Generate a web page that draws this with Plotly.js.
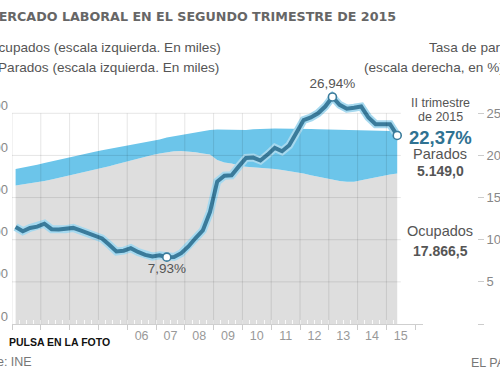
<!DOCTYPE html>
<html><head><meta charset="utf-8">
<script src="https://cdn.plot.ly/plotly-3.0.1.min.js"></script>
<style>html,body{margin:0;padding:0;background:#fff}#chart{width:500px;height:379px}</style>
</head><body><div id="chart"></div>
<script>
const quarters = [
 "2002T1","2002T2","2002T3","2002T4","2003T1","2003T2","2003T3","2003T4",
 "2004T1","2004T2","2004T3","2004T4","2005T1","2005T2","2005T3","2005T4",
 "2006T1","2006T2","2006T3","2006T4","2007T1","2007T2","2007T3","2007T4",
 "2008T1","2008T2","2008T3","2008T4","2009T1","2009T2","2009T3","2009T4",
 "2010T1","2010T2","2010T3","2010T4","2011T1","2011T2","2011T3","2011T4",
 "2012T1","2012T2","2012T3","2012T4","2013T1","2013T2","2013T3","2013T4",
 "2014T1","2014T2","2014T3","2014T4","2015T1","2015T2"];
// Ocupados (miles)
const ocupados = [
 16420,16550,16680,16800, 16960,17150,17340,17520,
 17700,17900,18080,18270, 18500,18720,18950,19180,
 19400,19620,19840,20050, 20230,20380,20500,20530,
 20480,20380,20240,20100, 19450,19150,19050,18800,
 18650,18600,18560,18480, 18400,18280,18150,18030,
 17850,17640,17470,17300, 17080,16960,16890,16880,
 17060,17250,17450,17640, 17750,17866.5];
// Parados (miles)
const parados = [
 1980,2000,2040,2100, 2140,2150,2160,2200,
 2200,2200,2200,2180, 2120,2060,1980,1880,
 1800,1730,1660,1630, 1670,1740,1780,1900,
 2120,2380,2650,2920, 3630,3900,3970,4190,
 4380,4500,4610,4700, 4790,4910,5030,5140,
 5300,5490,5630,5780, 5980,6070,6110,6100,
 5890,5670,5440,5230, 5150,5149.0];
// Tasa de paro (%)
const tasaParo = [
 11.50,11.00,11.40,11.55, 11.90,11.25,11.20,11.25,
 11.40,11.10,10.80,10.50, 10.15,9.40,8.60,8.70,
 9.00,8.55,8.20,8.00, 8.15,7.93,7.95,8.40,
 9.20,10.20,11.10,13.30, 16.90,17.60,17.65,18.70,
 19.70,19.75,19.40,20.10, 20.90,20.50,21.20,22.70,
 24.20,24.50,25.00,25.80, 26.94,26.00,25.55,25.65,
 25.80,24.50,23.70,23.70, 23.70,22.37];
const xTickYears = [2006,2007,2008,2009,2010,2011,2012,2013,2014,2015];
const xTickLabels = ["06","07","08","09","10","11","12","13","14","15"];
const gridYears = [2002,2003,2004,2005,2006,2007,2008,2009,2010,2011,2012,2013,2014,2015];
const yLeftTicks = [0,5000,10000,15000,20000,25000];
const yLeftLabels = ["0","5.000","10.000","15.000","20.000","25.000"];
const yRightTicks = [0,5,10,15,20,25];
const yRightLabels = ["","5","10","15","20","25"];
const highlighted = ["2007T2","2013T1","2015T2"];

const W=500,H=379,M={l:12,r:23,t:88,b:55};
const PW=W-M.l-M.r, PH=H-M.t-M.b;
const px=v=>(v-M.l)/PW, py=v=>(H-M.b-v)/PH;
const xq = quarters.map(q=>+q.slice(0,4)+(+q.slice(5)-0.5)/4);
const fmtPct = v=>v.toFixed(2).replace('.',',')+'%';
const fmtMiles = v=>{const [i,d]=v.toFixed(1).split('.');return i.replace(/\B(?=(\d{3})+(?!\d))/g,'.')+','+d;};
const last = quarters.length-1;
const hiIdx = highlighted.map(h=>quarters.indexOf(h));
const XR=[2002,2016.27], XD=[0,px(423)];
const LINE='#3a7b9b';

const traces = [
 {x:xq,y:ocupados,stackgroup:'a',mode:'lines',line:{width:0},fillcolor:'#dedede',hoverinfo:'skip'},
 {x:xq,y:parados,stackgroup:'a',mode:'lines',line:{width:0},fillcolor:'#6cc5ea',hoverinfo:'skip'},
 {x:xq,y:tasaParo,yaxis:'y2',mode:'lines',line:{width:8,color:'#a6d9ef'},hoverinfo:'skip'},
 {x:xq,y:tasaParo,yaxis:'y2',mode:'lines',line:{width:4,color:LINE},hoverinfo:'skip'},
 {x:hiIdx.map(i=>xq[i]),y:hiIdx.map(i=>tasaParo[i]),yaxis:'y2',mode:'markers+text',
  text:hiIdx.map((i,k)=>k<2?fmtPct(tasaParo[i]):''),
  textposition:['bottom center','top center','top center'],
  textfont:{size:13.5,color:'#555',family:'Liberation Sans, Arial'},
  marker:{size:8,color:'#fff',line:{color:LINE,width:1.6}},cliponaxis:false,hoverinfo:'skip'},
 {x:xq,y:xq.map(()=>null),xaxis:'x2',mode:'lines',hoverinfo:'skip'}
];

const shapes = [];
gridYears.forEach(y=>shapes.push({type:'line',xref:'x',yref:'y',x0:y,x1:y,y0:0,y1:yLeftTicks[yLeftTicks.length-1],layer:'above',line:{color:'rgba(0,0,0,0.10)',width:1}}));
yLeftTicks.slice(1).forEach(v=>shapes.push({type:'line',xref:'x',yref:'y',x0:gridYears[0],x1:gridYears[gridYears.length-1]+0.5,y0:v,y1:v,layer:'above',line:{color:'rgba(0,0,0,0.10)',width:1}}));

const A=(text,x,y,o={})=>Object.assign({text,x:px(x),y:py(y),xref:'paper',yref:'paper',showarrow:false,xanchor:'center',yanchor:'middle',borderpad:0,font:{family:'Liberation Sans, Arial',size:13.5,color:'#555'}},o);
const F=(size,color,bold,fam)=>({family:fam||'Liberation Sans, Arial',size,color,weight:bold?'bold':'normal'});

const annotations = [
 A('MERCADO LABORAL EN EL SEGUNDO TRIMESTRE DE 2015',397,17,{xanchor:'right',font:F(12.7,'#666',true,'DejaVu Sans')}),
 A('Ocupados (escala izquierda. En miles)',222,47,{xanchor:'right',font:F(13.6,'#555')}),
 A('Parados (escala izquierda. En miles)',220,67,{xanchor:'right',font:F(13.6,'#555')}),
 A('Tasa de paro',428,47,{xanchor:'left',font:F(13.6,'#555')}),
 A('(escala derecha, en %)',363,67,{xanchor:'left',font:F(13.6,'#555')}),
 A('II trimestre',440,103,{font:F(12.5,'#555')}),
 A('de 2015',440,117,{font:F(12.5,'#555')}),
 A(fmtPct(tasaParo[last]),440,137,{font:F(18.5,'#2f7292',true)}),
 A('Parados',440,154,{font:F(14.5,'#555')}),
 A(fmtMiles(parados[last]),440,171,{font:F(14,'#555',true)}),
 A('Ocupados',440,231,{font:F(14.5,'#555')}),
 A(fmtMiles(ocupados[last]),440,251,{font:F(14,'#555',true)}),
 A('PULSA EN LA FOTO',8,342,{xanchor:'left',font:F(10.5,'#111',true)}),
 A('Fuente: INE',33,362,{xanchor:'right',font:F(12.5,'#777')}),
 A('EL PAÍS',470,362,{xanchor:'left',font:F(12.5,'#777')})
];

const layout = {
 width:W,height:H,margin:M,paper_bgcolor:'#fff',plot_bgcolor:'rgba(0,0,0,0)',showlegend:false,
 font:{family:'Liberation Sans, Arial',color:'#888'},
 xaxis:{domain:XD,range:XR,tickmode:'array',tickvals:xTickYears.map(y=>y+0.5),ticktext:xTickLabels,
   ticks:'',showgrid:false,zeroline:false,showline:true,linecolor:'#cfcfcf',linewidth:1,
   tickfont:{size:12.5,color:'#999'},automargin:false,
   minor:{tickmode:'linear',tick0:2002,dtick:1,ticks:'outside',ticklen:5,tickcolor:'#ccc',showgrid:false}},
 xaxis2:{overlaying:'x',anchor:'y',domain:XD,range:XR,tickmode:'linear',tick0:2002,dtick:0.25,
   ticks:'inside',ticklen:4,tickcolor:'rgba(255,255,255,0.85)',showticklabels:false,showgrid:false,
   showline:false,zeroline:false,layer:'above traces',side:'bottom',automargin:false},
 yaxis:{range:[0,28000],tickmode:'array',tickvals:yLeftTicks,ticktext:yLeftLabels,ticks:'',
   showgrid:false,zeroline:false,showline:false,ticklabelshift:-8,ticklabelstandoff:3,
   tickfont:{size:13,color:'#888'},automargin:false},
 yaxis2:{overlaying:'y',side:'right',anchor:'free',position:1,range:[0,28],tickmode:'array',
   tickvals:yRightTicks,ticktext:yRightLabels,ticks:'outside',ticklen:6,tickcolor:'#ccc',
   showgrid:false,zeroline:false,showline:false,tickfont:{size:13,color:'#888'},automargin:false},
 shapes,annotations
};
Plotly.newPlot('chart',traces,layout,{staticPlot:true,displayModeBar:false});
</script></body></html>
